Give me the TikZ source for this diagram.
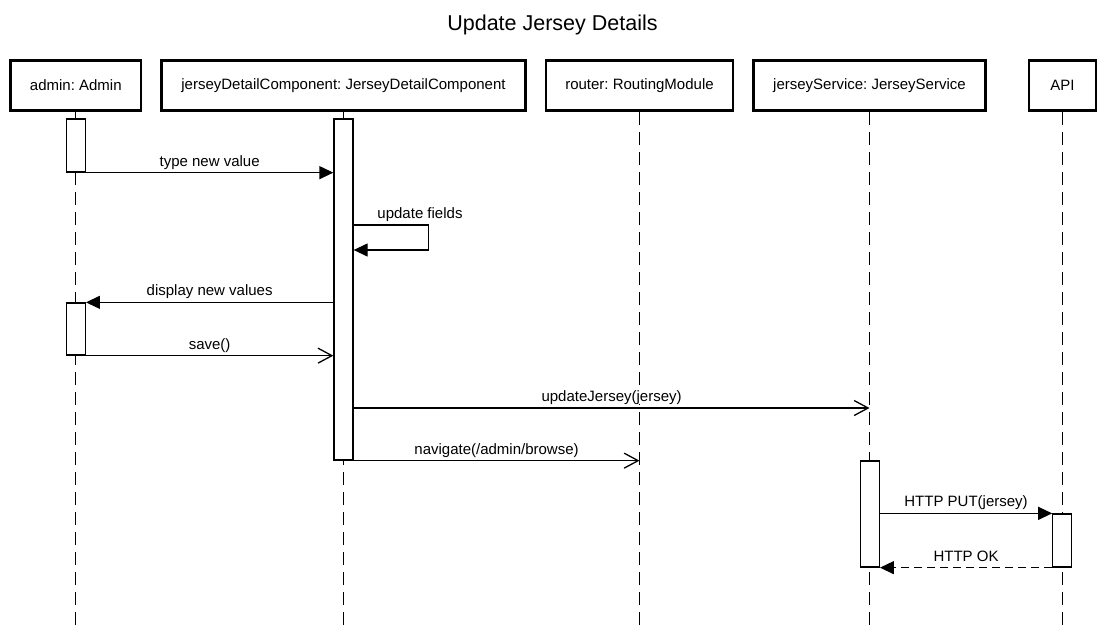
\documentclass[tikz,border=0pt]{standalone}
\usepackage{fontspec}
\setmainfont{Liberation Sans}
\usetikzlibrary{arrows.meta}
\frenchspacing
\begin{document}
\begin{tikzpicture}[x=1pt,y=-1pt,
  head/.style={draw, line width=2.6pt, fill=white, inner sep=0pt, font=\fontsize{15}{18}\selectfont, minimum height=50.5pt},
  act/.style={draw, line width=1.3pt, fill=white, inner sep=0pt, minimum width=19pt},
  life/.style={line width=1.3pt, dash pattern=on 13pt off 7pt},
  msg/.style={line width=1.3pt, -{Triangle[length=14pt,width=13pt]}},
  omsg/.style={line width=1.3pt, -{Straight Barb[length=14pt,width=15pt,line width=1.3pt]}},
  rmsg/.style={msg, dash pattern=on 8pt off 5pt},
  lbl/.style={font=\fontsize{15}{18}\selectfont, inner sep=0pt, fill=white, text height=11pt, text depth=3pt}]
\useasboundingbox (0,0) rectangle (1103,632);
\coordinate (bot) at (0,632);

\node[anchor=base, font=\fontsize{21.5}{26}\selectfont, inner sep=0pt] (title) at (552.5,30) {Update Jersey Details};

% heads
\node[head, minimum width=130.5pt] (admin) at (75.8,85.5) {admin: Admin};
\node[head, minimum width=364pt] (comp) at (343.5,85.5) {jerseyDetailComponent: JerseyDetailComponent};
\node[head, minimum width=187pt] (router) at (639.5,85.5) {router: RoutingModule};
\node[head, minimum width=232pt] (js) at (869.5,85.5) {jerseyService: JerseyService};
\node[head, minimum width=67pt] (api) at (1062.5,85.5) {API};

% lifelines
\foreach \n in {admin,comp,router,js,api}
  \draw[life] (\n.south) -- (\n.south |- bot);

% activations
\node[act, minimum height=53pt] (a1) at (75.8,145.5) {};
\node[act, minimum height=341pt] (c1) at (343.5,289.5) {};
\node[act, minimum height=52pt] (a2) at (75.8,329) {};
\node[act, minimum height=106pt] (s1) at (869.8,514) {};
\node[act, minimum height=53pt] (p1) at (1062.3,540.5) {};

% messages
\draw[msg] (a1.south east) -- (a1.south east -| c1.west)
  node[lbl, midway, above=3pt] {type new value};

\coordinate (u1) at (0,225);
\coordinate (u2) at (0,250);
\draw[msg] (c1.east |- u1) -- ++(75,0) coordinate (uc) -- (uc |- u2) -- (c1.east |- u2);
\node[lbl, anchor=south] (ulbl) at (420,222) {update fields};

\draw[msg] (a2.north east -| c1.west) -- (a2.north east)
  node[lbl, midway, above=3pt] {display new values};

\draw[omsg] (a2.south east) -- (a2.south east -| c1.west)
  node[lbl, midway, above=3pt] {save()};

\coordinate (m5) at (0,408);
\draw[omsg] (c1.east |- m5) -- (js.south |- m5)
  node[lbl, midway, above=3pt] {updateJersey(jersey)};

\draw[omsg] (c1.south west) -- (c1.south west -| router.south)
  node[lbl, pos=0.533, above=3pt] {navigate(/admin/browse)};

\draw[msg] (s1.east |- p1.north) -- (p1.north west)
  node[lbl, midway, above=3pt] {HTTP PUT(jersey)};

\draw[rmsg] (p1.south west) -- (p1.south west -| s1.east)
  node[lbl, midway, above=3pt] {HTTP OK};
\end{tikzpicture}
\end{document}
